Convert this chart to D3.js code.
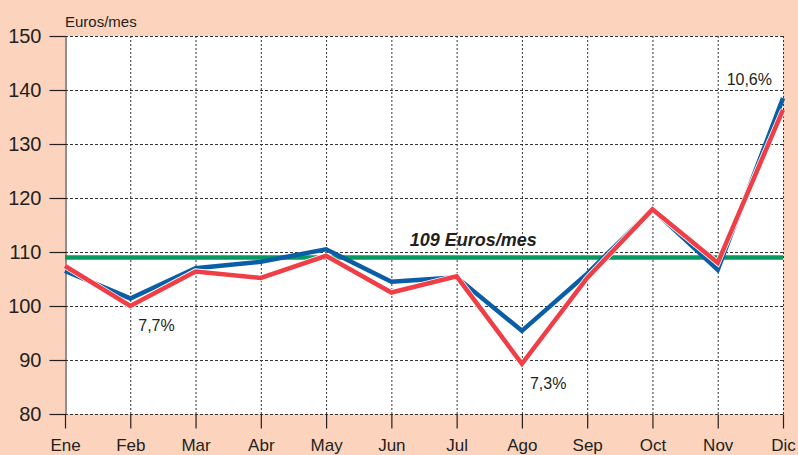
<!DOCTYPE html>
<html>
<head>
<meta charset="utf-8">
<script src="https://cdn.jsdelivr.net/npm/d3@7"></script>
<style>
	body { margin: 0; background: #fcd3bd; }
	svg { display: block; font-family: "Liberation Sans", Arial, sans-serif; }
	.axis text { fill: #231f20; }
	.axis line, .axis path { stroke: #231f20; }
</style>
</head>
<body>
<div id="graphic"></div>
<script>
const months = ["Ene", "Feb", "Mar", "Abr", "May", "Jun", "Jul", "Ago", "Sep", "Oct", "Nov", "Dic"];
const seriesBlue = [106.5, 101.4, 107.0, 108.2, 110.5, 104.5, 105.3, 95.4, 106.0, 117.9, 106.7, 138.5];
const seriesRed = [107.4, 100.0, 106.4, 105.2, 109.3, 102.5, 105.5, 89.3, 105.2, 117.9, 108.0, 136.3];
const yTicks = [80, 90, 100, 110, 120, 130, 140, 150];
const average = 109;
const averageLabel = "109 Euros/mes";
const notes = [
	{ month: "Feb", value: 100.0, text: "7,7%" },
	{ month: "Ago", value: 89.3, text: "7,3%" },
	{ month: "Dic", value: 138.5, text: "10,6%" }
];

let width = 798, height = 455;
let margin = { top: 36, right: 15, bottom: 41, left: 65 };

let svg = d3.select('#graphic').append('svg')
	.attr('width', width)
	.attr('height', height);

//plot area white
svg.append('rect')
	.attr('x', margin.left)
	.attr('y', margin.top)
	.attr('width', width - margin.left - margin.right)
	.attr('height', height - margin.top - margin.bottom)
	.attr('fill', '#fff');

const x = d3.scalePoint()
	.domain(months)
	.range([margin.left, width - margin.right]);

const y = d3.scaleLinear()
	.domain([80, 150])
	.range([height - margin.bottom, margin.top]);

// horizontal dashed grid
svg.append('g')
	.selectAll('line')
	.data(yTicks)
	.join('line')
	.attr('x1', margin.left)
	.attr('x2', width - margin.right)
	.attr('y1', d => y(d) + 0.5)
	.attr('y2', d => y(d) + 0.5)
	.attr('stroke', '#333')
	.attr('stroke-width', 1)
	.attr('stroke-dasharray', '3,2');

// vertical dotted grid
svg.append('g')
	.selectAll('line')
	.data(months.slice(1))
	.join('line')
	.attr('x1', d => x(d) + 0.5)
	.attr('x2', d => x(d) + 0.5)
	.attr('y1', y(150))
	.attr('y2', y(80))
	.attr('stroke', '#333')
	.attr('stroke-width', 1)
	.attr('stroke-dasharray', '2,2');

// y axis
svg.append('g')
	.attr('class', 'y axis')
	.attr('transform', 'translate(' + (margin.left + 0.5) + ',0)')
	.call(d3.axisLeft(y).tickValues(yTicks).tickSize(16).tickSizeOuter(0).tickPadding(8))
	.call(g => g.selectAll('text').style('font-size', '20px'))
	.call(g => g.selectAll('.tick line').attr('stroke-width', 1.2));

// x axis
svg.append('g')
	.attr('class', 'x axis')
	.attr('transform', 'translate(0,' + (y(80) + 0.5) + ')')
	.call(d3.axisBottom(x).tickSize(14).tickPadding(10))
	.call(g => g.select('.domain').remove())
	.call(g => g.selectAll('text').style('font-size', '17px'))
	.call(g => g.selectAll('.tick line').attr('stroke-width', 1.2));

svg.append('text')
	.attr('x', margin.left)
	.attr('y', 27)
	.attr('fill', '#231f20')
	.style('font-size', '15px')
	.text('Euros/mes');

// average line
svg.append('line')
	.attr('x1', margin.left)
	.attr('x2', width - margin.right)
	.attr('y1', y(average))
	.attr('y2', y(average))
	.attr('stroke', '#07995f')
	.attr('stroke-width', 4.5);

svg.append('text')
	.attr('x', (x('Jul') + x('Ago')) / 2 - 16)
	.attr('y', y(average) - 11)
	.attr('text-anchor', 'middle')
	.attr('fill', '#231f20')
	.style('font-size', '18px')
	.style('font-weight', 'bold')
	.style('font-style', 'italic')
	.text(averageLabel);

const line = d3.line()
	.x((d, i) => x(months[i]))
	.y(d => y(d));

svg.append('path')
	.datum(seriesBlue)
	.attr('fill', 'none')
	.attr('stroke', '#0a5ea6')
	.attr('stroke-width', 4.5)
	.attr('d', line);

svg.append('path')
	.datum(seriesRed)
	.attr('fill', 'none')
	.attr('stroke', '#fff')
	.attr('stroke-width', 6)
	.attr('d', line);

svg.append('path')
	.datum(seriesRed)
	.attr('fill', 'none')
	.attr('stroke', '#ef3e46')
	.attr('stroke-width', 4.5)
	.attr('d', line);

// percentage notes
svg.append('g')
	.selectAll('text')
	.data(notes)
	.join('text')
	.attr('x', d => d.month == "Dic" ? x(d.month) - 11 : x(d.month) + 8)
	.attr('y', d => d.month == "Dic" ? y(d.value) - 13 : y(d.value) + 25)
	.attr('text-anchor', d => d.month == "Dic" ? 'end' : 'start')
	.attr('fill', '#231f20')
	.style('font-size', '16px')
	.text(d => d.text);
</script>
</body>
</html>
